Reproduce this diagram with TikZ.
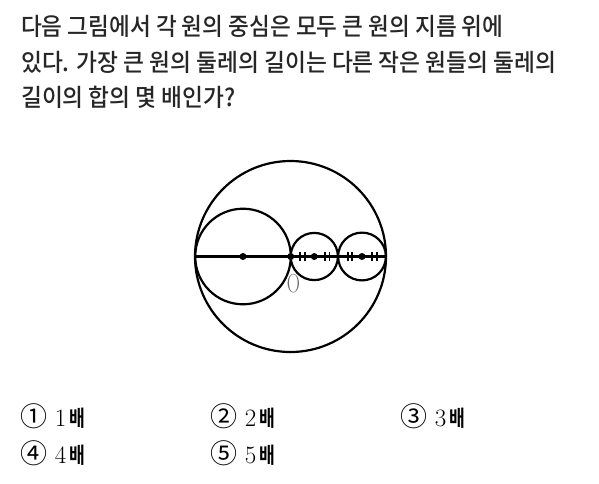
\documentclass[tikz,border=0pt]{standalone}
\usepackage{fontspec}
\usepackage{graphicx}
\newfontfamily\kr{Noto Sans CJK KR}
\newfontfamily\krm{Noto Sans CJK KR Medium}
\newfontfamily\krb{Noto Sans CJK KR Bold}
\newcommand{\bae}{\hspace{3pt}{\krb\fontsize{22}{26}\selectfont\scalebox{0.78}[1]{배}}}
\newcommand{\circd}[1]{{\kr\fontsize{27}{26}\selectfont #1}}
\begin{document}
\begin{tikzpicture}[x=1pt,y=-1pt,
  circ/.style={draw,line width=2.2pt},
  dotc/.style={circle,fill,inner sep=0pt,minimum size=7pt},
  tick/.style={line width=1.7pt},
  qtext/.style={anchor=base west,inner sep=0pt,text=black!85,font=\krm\fontsize{24.3}{28}\selectfont},
  opt/.style={anchor=base west,inner sep=0pt,font=\fontsize{25}{26}\selectfont}]
\useasboundingbox (0,0) rectangle (599,483);
\fill[white] (0,0) rectangle (599,483);
% question
\node[qtext,xscale=0.93] (q1) at (21,35) {다음 그림에서 각 원의 중심은 모두 큰 원의 지름 위에};
\node[qtext,xscale=0.935] (q2) at (21,71) {있다. 가장 큰 원의 둘레의 길이는 다른 작은 원들의 둘레의};
\node[qtext,xscale=0.935] (q3) at (21,106.5) {길이의 합의 몇 배인가?};
% figure
\coordinate (C) at (290.5,256.5);
\coordinate (L) at (243,256.5);
\coordinate (O) at (290.7,256.5);
\coordinate (S1) at (314.3,256.5);
\coordinate (S2) at (362,256.5);
\coordinate (A) at (195,256.5);
\coordinate (B) at (386,256.5);
\draw[circ] (C) circle (95.5);
\draw[circ] (L) circle (47.8);
\draw[circ] (S1) circle (23.6);
\draw[circ] (S2) circle (23.9);
\draw[circ] (A) -- (B);
\foreach \p in {L,O,S1,S2} \node[dotc] at (\p) {};
\foreach \x in {302.5,327.3,350,374.5}{
  \draw[tick] (\x-2.3,252) -- (\x-2.3,261);
  \draw[tick] (\x+2.3,252) -- (\x+2.3,261);
}
\node[inner sep=0pt,font=\fontsize{26}{26}\selectfont,xscale=0.7,text=black!60] (Olab) at (293.5,284) {O};
% options
\node[opt] (o1) at (20,426) {\circd{①} 1\bae};
\node[opt] (o2) at (210,426) {\circd{②} 2\bae};
\node[opt] (o3) at (400,426) {\circd{③} 3\bae};
\node[opt] (o4) at (20,463) {\circd{④} 4\bae};
\node[opt] (o5) at (210,463) {\circd{⑤} 5\bae};
\end{tikzpicture}
\end{document}
